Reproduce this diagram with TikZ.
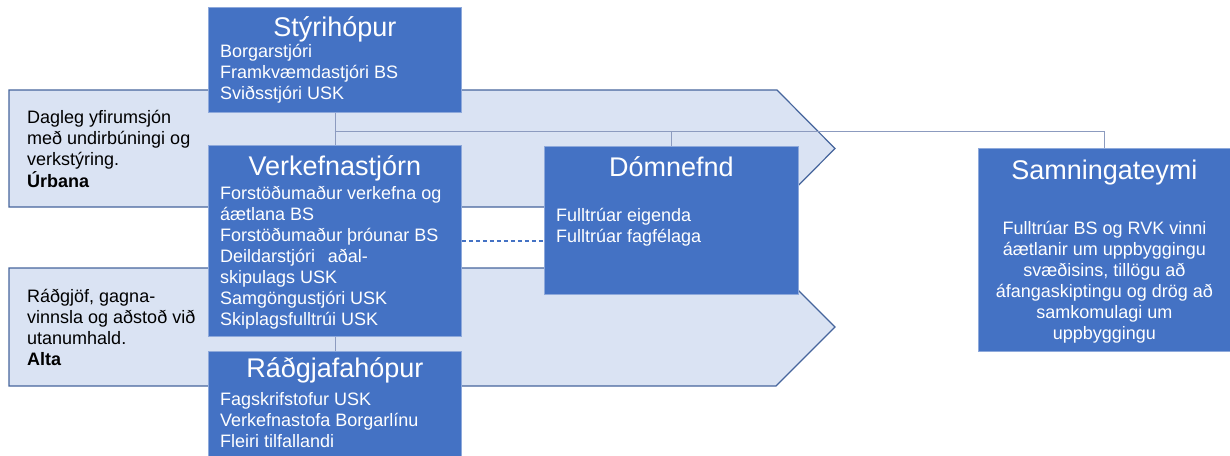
\documentclass[tikz,border=0pt]{standalone}
\usepackage{fontspec}
\setmainfont{Liberation Sans}
\usetikzlibrary{positioning}

\definecolor{groupblue}{HTML}{4472C4}
\definecolor{groupedge}{HTML}{8EA9DB}
\definecolor{bandfill}{HTML}{DAE3F3}
\definecolor{bandedge}{HTML}{46659C}
\definecolor{linkgray}{HTML}{8C9BBF}

\tikzset{
  group/.style={draw=groupedge, line width=0.8pt, fill=groupblue, rectangle, anchor=north west, inner sep=0pt},
  grouptitle/.style={text=white, font=\fontsize{27}{32}\selectfont, anchor=base, inner sep=0pt},
  members/.style={text=white, font=\fontsize{18}{21}\selectfont, anchor=base west, inner sep=0pt},
  band/.style={draw=bandedge, line width=1.2pt, fill=bandfill, line join=miter},
  bandtext/.style={font=\fontsize{18}{21}\selectfont, anchor=base west, inner sep=0pt},
  link/.style={draw=linkgray, line width=0.8pt},
  dashlink/.style={draw=groupblue, line width=1.3pt, dash pattern=on 4pt off 3pt}
}

\begin{document}
\begin{tikzpicture}[x=1pt, y=-1pt]
  \useasboundingbox (0,0) rectangle (1230,455);

  % Draw the two bands
  \path[band] (9,90) -- (777,90) -- (835,148.5) -- (777,207) -- (9,207) -- cycle;
  \path[band] (9,268) -- (776,268) -- (835,327) -- (776,386) -- (9,386) -- cycle;

  % Band labels
  \node[bandtext] (dagleg) at (27,123) {\begin{tabular}[t]{@{}l@{}}Dagleg yfirumsjón\\með undirbúningi og\\verkstýring.\\\textbf{Úrbana}\end{tabular}};
  \node[bandtext] (radgjof) at (27,302) {\begin{tabular}[t]{@{}l@{}}Ráðgjöf, gagna-\\vinnsla og aðstoð við\\utanumhald.\\\textbf{Alta}\end{tabular}};

  % Draw the group boxes
  \node[group, minimum width=253pt, minimum height=105pt] (styri) at (208,7) {};
  \node[group, minimum width=253pt, minimum height=191pt] (verk) at (208,145) {};
  \node[group, minimum width=253pt, minimum height=108pt] (rad) at (208,351) {};
  \node[group, minimum width=254pt, minimum height=148pt] (dom) at (544,146) {};
  \node[group, minimum width=252pt, minimum height=203pt] (samn) at (978,148) {};

  % Titles
  \node[grouptitle] (styri title) at ([yshift=-29pt]styri.north) {Stýrihópur};
  \node[grouptitle] (verk title) at ([yshift=-30pt]verk.north) {Verkefnastjórn};
  \node[grouptitle] (rad title) at ([yshift=-26pt]rad.north) {Ráðgjafahópur};
  \node[grouptitle] (dom title) at ([yshift=-30pt]dom.north) {Dómnefnd};
  \node[grouptitle] (samn title) at ([yshift=-31pt]samn.north) {Samningateymi};

  % Members
  \node[members] (styri list) at ([xshift=12pt, yshift=-50pt]styri.north west) {\begin{tabular}[t]{@{}l@{}}Borgarstjóri\\Framkvæmdastjóri BS\\Sviðsstjóri USK\end{tabular}};
  \node[members] (verk list) at ([xshift=12pt, yshift=-54pt]verk.north west) {\begin{tabular}[t]{@{}l@{}}Forstöðumaður verkefna og\\áætlana BS\\Forstöðumaður þróunar BS\\Deildarstjóri\hspace{0.7em}aðal-\\skipulags USK\\Samgöngustjóri USK\\Skiplagsfulltrúi USK\end{tabular}};
  \node[members] (rad list) at ([xshift=12pt, yshift=-54pt]rad.north west) {\begin{tabular}[t]{@{}l@{}}Fagskrifstofur USK\\Verkefnastofa Borgarlínu\\Fleiri tilfallandi\end{tabular}};
  \node[members] (dom list) at ([xshift=12pt, yshift=-75pt]dom.north west) {\begin{tabular}[t]{@{}l@{}}Fulltrúar eigenda\\Fulltrúar fagfélaga\end{tabular}};
  \node[members, anchor=base] (samn list) at ([yshift=-86pt]samn.north) {\begin{tabular}[t]{@{}c@{}}Fulltrúar BS og RVK vinni\\áætlanir um uppbyggingu\\svæðisins, tillögu að\\áfangaskiptingu og drög að\\samkomulagi um\\uppbyggingu\end{tabular}};

  % Connectors
  \coordinate (bus) at (334.5,131);
  \draw[link] (styri.south) -- (verk.north);
  \draw[link] (bus) -| (samn.north);
  \draw[link] (bus -| dom.north) -- (dom.north);
  \draw[link] (verk.south) -- (rad.north);
  \draw[dashlink] (verk.east) -- (verk.east -| dom.west);
\end{tikzpicture}
\end{document}
